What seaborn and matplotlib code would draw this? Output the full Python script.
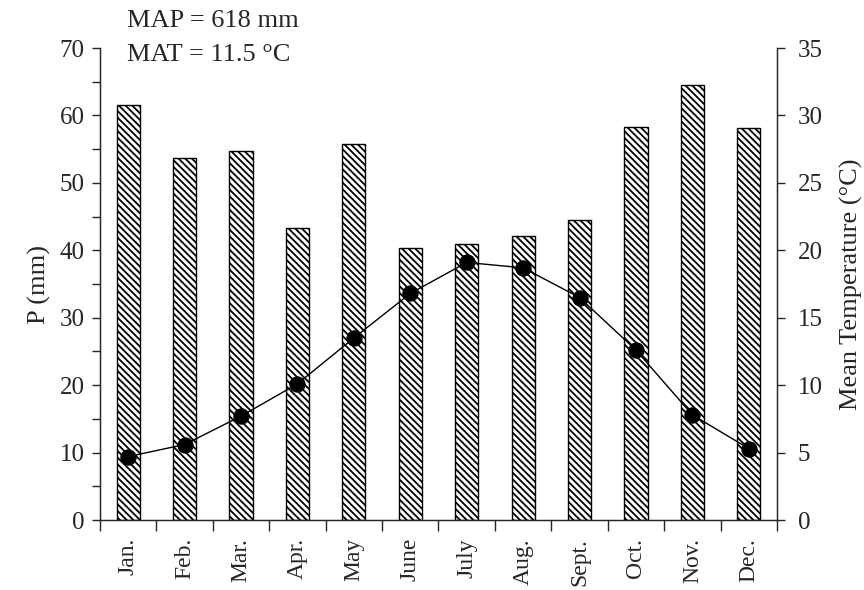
import numpy as np
import pandas as pd
import seaborn as sns
import matplotlib.pyplot as plt
from matplotlib.ticker import MultipleLocator, FixedLocator

months = ["Jan.", "Feb.", "Mar.", "Apr.", "May", "June",
          "July", "Aug.", "Sept.", "Oct.", "Nov.", "Dec."]
precip = [61.5, 53.7, 54.7, 43.3, 55.7, 40.3, 40.9, 42.1, 44.5, 58.3, 64.5, 58.2]
temp = [4.7, 5.6, 7.7, 10.1, 13.5, 16.8, 19.1, 18.7, 16.5, 12.6, 7.8, 5.3]

df = pd.DataFrame({"Month": months, "P": precip, "T": temp})

sns.set_style("ticks")
plt.rcParams["font.family"] = ["Liberation Serif", "DejaVu Serif"]
plt.rcParams["hatch.linewidth"] = 1.3

TICK_FS = 18
LABEL_FS = 19

fig = plt.figure(figsize=(8.64, 5.90), dpi=100)
ax = fig.add_axes([0.1157, 0.1186, 0.7836, 0.8])

sns.barplot(data=df, x="Month", y="P", ax=ax, color="white", width=0.41,
            edgecolor="black", linewidth=1.0, saturation=1)
for p in ax.patches:
    p.set_hatch("\\\\\\\\\\")
    p.set_facecolor("white")
    p.set_edgecolor("black")

ax.set_xlim(-0.5, len(months) - 0.5)
ax.set_ylim(0, 70)
ax.yaxis.set_major_locator(MultipleLocator(10))
ax.yaxis.set_minor_locator(MultipleLocator(5))
ax.set_ylabel("P (mm)", fontsize=LABEL_FS, labelpad=6)
ax.set_xlabel("")
ax.tick_params(axis="x", which="major", length=0, pad=13, labelsize=17, rotation=90)
ax.xaxis.set_minor_locator(FixedLocator(np.arange(-0.5, len(months), 1.0)))
ax.tick_params(axis="x", which="minor", length=8, width=1, direction="out")
ax.tick_params(axis="y", which="both", length=6, width=1, direction="out",
               labelsize=TICK_FS, pad=5)
ax.spines["top"].set_visible(False)
for s in ["left", "bottom"]:
    ax.spines[s].set_linewidth(1.0)

ax2 = ax.twinx()
sns.lineplot(x=np.arange(len(months)), y=df["T"], ax=ax2, color="black",
             linewidth=1.0, marker="o", markersize=11, markeredgecolor="black")
ax2.set_ylim(0, 35)
ax2.yaxis.set_major_locator(MultipleLocator(5))
ax2.set_ylabel("Mean Temperature (°C)", fontsize=LABEL_FS, labelpad=12)
ax2.tick_params(axis="y", length=6, width=1, direction="out", labelsize=TICK_FS, pad=9)
ax2.spines["top"].set_visible(False)
ax2.spines["right"].set_linewidth(1.0)

ax.text(0.04, 1.057, "MAP = 618 mm", transform=ax.transAxes, fontsize=LABEL_FS, va="center")
ax.text(0.04, 0.985, "MAT = 11.5 °C", transform=ax.transAxes, fontsize=LABEL_FS, va="center")

fig.savefig("out.png", dpi=100)
